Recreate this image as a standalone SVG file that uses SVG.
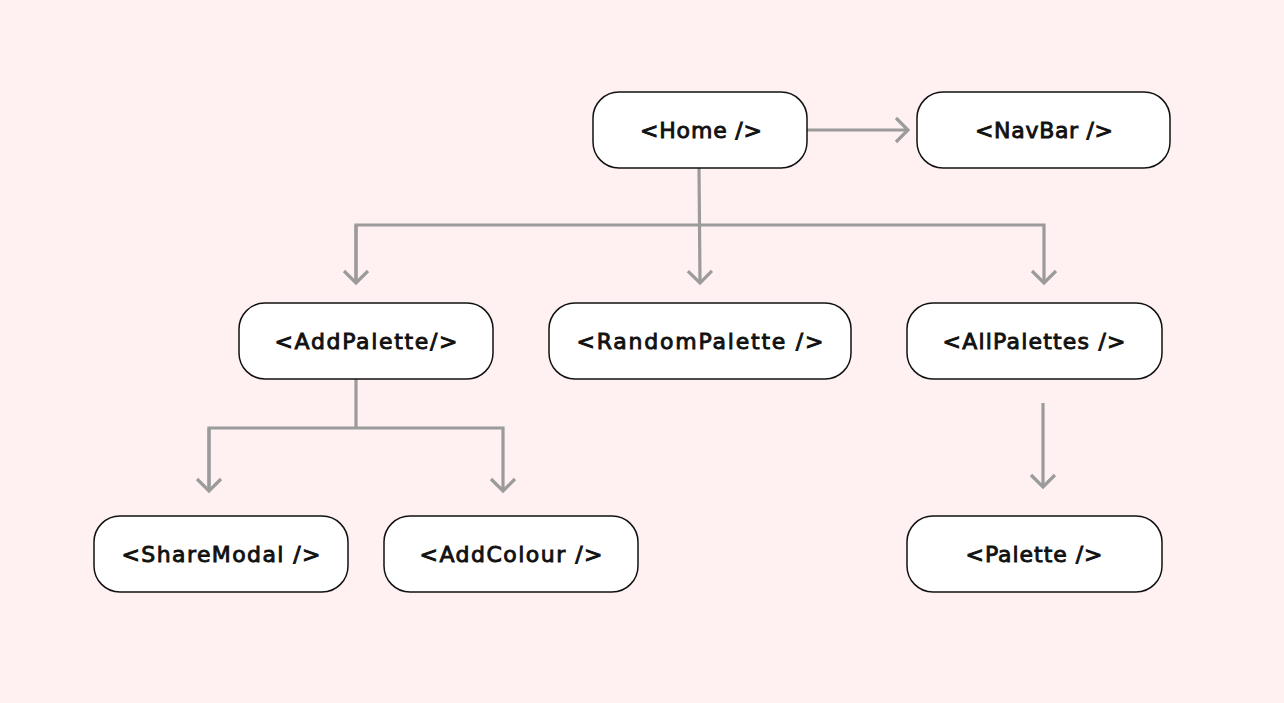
<svg xmlns="http://www.w3.org/2000/svg" width="1284" height="703" viewBox="0 0 1284 703">
<style>
.box{fill:#fff;stroke:#111;stroke-width:1.5}
.lbl{font-family:"DejaVu Sans",Inter,sans-serif;font-weight:400;font-size:22px;fill:#111;stroke:#111;stroke-width:0.9;text-anchor:middle}
.c{fill:none;stroke:#9b9b9b;stroke-width:3.2}
</style>
<defs>
<marker id="ah" markerUnits="userSpaceOnUse" markerWidth="30" markerHeight="30" refX="14" refY="14" orient="auto" viewBox="0 0 30 30">
<path d="M2,2 L14,14 L2,26" fill="none" stroke="#9b9b9b" stroke-width="3.2"/>
</marker>
</defs>
<rect width="1284" height="703" fill="#FFF1F1"/>
<g id="connectors">
<path class="c" d="M807,130 H908" marker-end="url(#ah)"/>
<path class="c" d="M699,168 L700,283" marker-end="url(#ah)"/>
<path class="c" d="M356,283 V225 H1044 V283" marker-end="url(#ah)"/>
<path class="c" d="M356,225 V283" marker-end="url(#ah)"/>
<path class="c" d="M356,379 V428"/>
<path class="c" d="M209,491 V428 H503 V491" marker-end="url(#ah)"/>
<path class="c" d="M209,428 V491" marker-end="url(#ah)"/>
<path class="c" d="M1043,403 V487" marker-end="url(#ah)"/>
</g>
<g id="home"><rect class="box" x="593" y="92" width="214" height="76" rx="26"/><text class="lbl" x="701" y="138" textLength="122" lengthAdjust="spacing">&lt;Home /&gt;</text></g>
<g id="navbar"><rect class="box" x="917" y="92" width="253" height="76" rx="26"/><text class="lbl" x="1044" y="138" textLength="138" lengthAdjust="spacing">&lt;NavBar /&gt;</text></g>
<g id="addpalette"><rect class="box" x="239" y="303" width="254" height="76" rx="26"/><text class="lbl" x="366" y="349" textLength="183" lengthAdjust="spacing">&lt;AddPalette/&gt;</text></g>
<g id="randompalette"><rect class="box" x="549" y="303" width="302" height="76" rx="26"/><text class="lbl" x="700" y="349" textLength="247" lengthAdjust="spacing">&lt;RandomPalette /&gt;</text></g>
<g id="allpalettes"><rect class="box" x="907" y="303" width="255" height="76" rx="26"/><text class="lbl" x="1034" y="349" textLength="183" lengthAdjust="spacing">&lt;AllPalettes /&gt;</text></g>
<g id="sharemodal"><rect class="box" x="94" y="516" width="254" height="76" rx="26"/><text class="lbl" x="221" y="562" textLength="199" lengthAdjust="spacing">&lt;ShareModal /&gt;</text></g>
<g id="addcolour"><rect class="box" x="384" y="516" width="254" height="76" rx="26"/><text class="lbl" x="511" y="562" textLength="183" lengthAdjust="spacing">&lt;AddColour /&gt;</text></g>
<g id="palette"><rect class="box" x="907" y="516" width="255" height="76" rx="26"/><text class="lbl" x="1034" y="562" textLength="137" lengthAdjust="spacing">&lt;Palette /&gt;</text></g>
</svg>
